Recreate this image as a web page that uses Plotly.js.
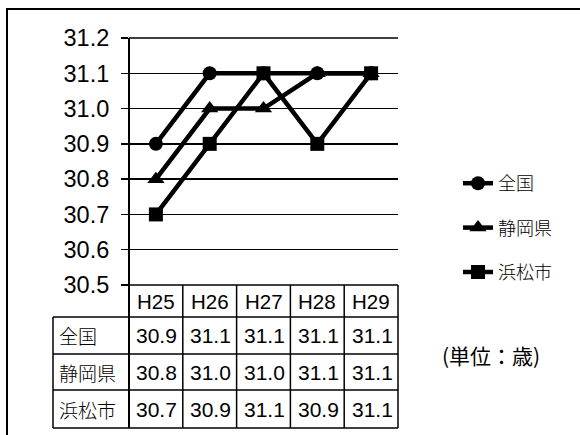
<!DOCTYPE html>
<html>
<head>
<meta charset="utf-8">
<script src="https://cdn.plot.ly/plotly-3.0.1.min.js"></script>
<style>html,body{margin:0;padding:0;background:#fff;}#chart{width:580px;height:435px;}</style>
</head>
<body>
<div id="chart"></div>
<script>
// ---- data ----
const years = ['H25', 'H26', 'H27', 'H28', 'H29'];
const seriesNames = ['全国', '静岡県', '浜松市'];
const zenkoku = [30.9, 31.1, 31.1, 31.1, 31.1];
const shizuoka = [30.8, 31.0, 31.0, 31.1, 31.1];
const hamamatsu = [30.7, 30.9, 31.1, 30.9, 31.1];
const yTicks = [30.5, 30.6, 30.7, 30.8, 30.9, 31.0, 31.1, 31.2];
const unitLabel = '(単位：歳)';

// ---- layout geometry (pixels) ----
const W = 580, H = 435;
const L = 129, R = 398, T = 38, B = 285;
const pw = R - L, ph = B - T;
const px2x = p => (p - L) / pw;        // paper x
const py2y = p => (B - p) / ph;        // paper y
const nCol = years.length;
const colPaper = i => i / nCol;        // paper x of column edge i

const jp = '"Noto Sans CJK JP", "Noto Sans", sans-serif';
const lat = '"Liberation Sans", Arial, sans-serif';

const allSeries = [zenkoku, shizuoka, hamamatsu];
const symbols = ['circle', 'triangle-up', 'square'];
const msizes = [14, 15, 14];
const xIdx = years.map((_, i) => i);

const traces = allSeries.map((vals, k) => ({
  type: 'scatter', mode: 'lines+markers',
  x: xIdx, y: vals, name: seriesNames[k],
  legendgroup: 'g' + k,
  line: {color: '#000', width: 4.5},
  marker: {symbol: symbols[k], size: msizes[k], color: '#000'},
  cliponaxis: false
}));

// ---- table ----
const rowEdges = [285, 317, 354, 390, 428].map(py2y);
const labelLeft = px2x(53);
const lw = 1.5;
const shapes = [];
const ln = (x0, y0, x1, y1, w) => shapes.push({type: 'line', xref: 'paper', yref: 'paper',
  x0, y0, x1, y1, line: {color: '#000', width: w || lw}});
// top and bottom grid edges
ln(0, 1, 1, 1);
ln(px2x(122), 0, 1, 0);
// vertical column lines
for (let i = 0; i <= nCol; i++) ln(colPaper(i), i === 0 ? 1 : rowEdges[0], colPaper(i), rowEdges[4], i === 0 ? 2 : lw);
// label column left line
ln(labelLeft, rowEdges[1], labelLeft, rowEdges[4]);
// horizontal row lines
for (let r = 1; r <= 4; r++) ln(labelLeft, rowEdges[r], 1, rowEdges[r]);
// outer frame
shapes.push({type: 'rect', xref: 'paper', yref: 'paper', x0: px2x(7), x1: px2x(W + 20),
  y0: py2y(9), y1: py2y(H + 20), line: {color: '#000', width: 2}, layer: 'below'});

const annotations = [];
const ann = (o) => annotations.push(Object.assign({xref: 'paper', yref: 'paper', showarrow: false,
  xanchor: 'center', yanchor: 'middle'}, o));
years.forEach((yr, i) => ann({x: (colPaper(i) + colPaper(i + 1)) / 2, y: (rowEdges[0] + rowEdges[1]) / 2,
  text: yr, font: {family: lat, size: 20.5, color: '#000'}}));
allSeries.forEach((vals, k) => {
  const yc = (rowEdges[k + 1] + rowEdges[k + 2]) / 2;
  ann({x: labelLeft + px2x(L + 4), y: yc, xanchor: 'left', text: seriesNames[k],
    font: {family: jp, size: 19, color: '#000', weight: 300}});
  vals.forEach((v, i) => ann({x: (colPaper(i) + colPaper(i + 1)) / 2 + px2x(L + 1), y: yc,
    text: v.toFixed(1), font: {family: lat, size: 21, color: '#000'}}));
});
ann({x: px2x(491), y: py2y(355), text: unitLabel, font: {family: jp, size: 21, color: '#000'}});

const layout = {
  width: W, height: H,
  margin: {l: L, r: W - R, t: T, b: H - B, pad: 0},
  paper_bgcolor: '#fff', plot_bgcolor: '#fff',
  showlegend: true,
  legend: {x: px2x(458), y: py2y(165), xanchor: 'left', yanchor: 'top',
    traceorder: 'grouped', tracegroupgap: 18, bgcolor: 'rgba(0,0,0,0)',
    font: {family: jp, size: 18, color: '#000', weight: 300}},
  xaxis: {range: [-0.5, nCol - 0.5], showgrid: false, zeroline: false,
    showline: false, showticklabels: false, ticks: '', fixedrange: true},
  yaxis: {range: [30.5, 31.2], tickvals: yTicks, ticktext: yTicks.map(v => v.toFixed(1)),
    ticks: 'outside', ticklen: 7, tickwidth: 1.5, tickcolor: '#000',
    showgrid: true, gridcolor: '#000', gridwidth: lw, zeroline: false,
    showline: false, ticklabelstandoff: 7,
    tickfont: {family: lat, size: 23.5, color: '#000'}, fixedrange: true},
  shapes: shapes, annotations: annotations
};

Plotly.newPlot('chart', traces, layout, {staticPlot: true, displayModeBar: false});
</script>
</body>
</html>
